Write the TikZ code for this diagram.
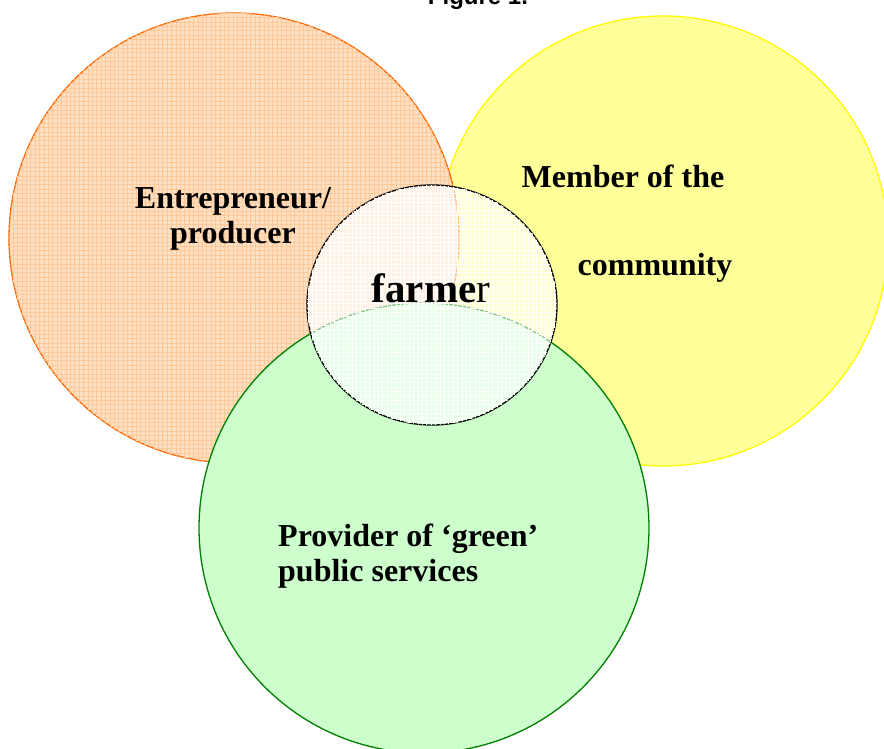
\documentclass[tikz,border=0pt]{standalone}
\usepackage{fontspec}
\setmainfont{Liberation Serif}
\newfontfamily\titlefont{Liberation Sans}
\usetikzlibrary{patterns.meta, shapes.geometric}

\definecolor{orangeline}{HTML}{FF6600}
\definecolor{orangefill}{HTML}{FFE0C2}
\definecolor{orangegrid}{HTML}{FFC898}
\definecolor{yellowline}{HTML}{FFFF00}
\definecolor{yellowfill}{HTML}{FFFF99}
\definecolor{greenline}{HTML}{008000}
\definecolor{greenfill}{HTML}{CCFFCC}

\tikzset{role/.style = {circle, minimum size = 450pt, inner sep = 0pt, line width = 1.3pt},
         gridded/.style = {postaction = {pattern = {Lines[angle = 0, distance = 4.4pt, line width = 0.7pt]},
                                         pattern color = #1},
                           postaction = {pattern = {Lines[angle = 90, distance = 4.4pt, line width = 0.7pt]},
                                         pattern color = #1}},
         rolelabel/.style = {font = \fontsize{32}{35}\selectfont\bfseries, inner sep = 0pt},
         core/.style = {ellipse, minimum width = 250pt, minimum height = 240pt,
                        inner sep = 0pt, draw = black, line width = 1.3pt}
        }

\begin{document}
\begin{tikzpicture}[x=1pt, y=-1pt]
  \useasboundingbox (0, 0) rectangle (884, 748);
  \fill[white] (0, 0) rectangle (884, 748);
  % the three roles
  \node[role, draw = yellowline, fill = yellowfill] (community) at (663, 241) {};
  \node[role, draw = orangeline, fill = orangefill, gridded = orangegrid] (producer) at (234, 238) {};
  \node[role, draw = greenline, fill = greenfill] (green) at (424, 528) {};
  % the farmer in the middle
  \node[core, fill = white, fill opacity = 0.55, gridded = white] (farmer) at (432, 305) {};

  \node[rolelabel, align = center, anchor = base] (producerlabel) at (233, 243) {Entrepreneur/\\producer};
  \node[rolelabel, anchor = base] (communitylabel1) at (623, 187) {Member of the};
  \node[rolelabel, anchor = base] (communitylabel2) at (655, 275) {community};
  \node[rolelabel, align = left, anchor = base west] (greenlabel) at (278, 581) {Provider of ‘green’\\public services};
  \node[font = \fontsize{41}{45}\selectfont, inner sep = 0pt, anchor = base] (farmerlabel) at (431, 302)
    {\textbf{farme}r};
  \node[font = \titlefont\fontsize{24}{28}\selectfont\bfseries, inner sep = 0pt, anchor = base] (title) at (478, 4) {Figure 1.};
\end{tikzpicture}
\end{document}
